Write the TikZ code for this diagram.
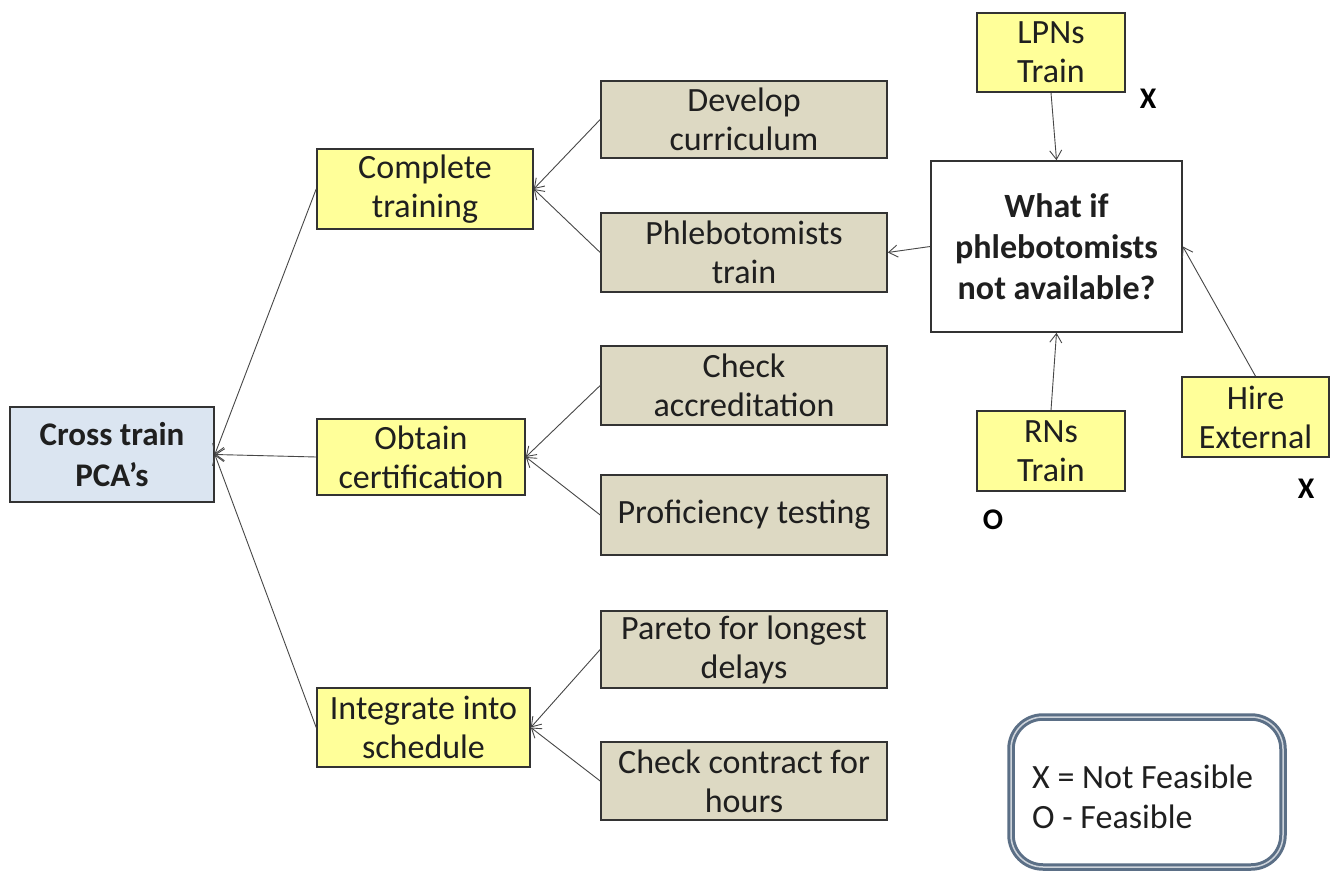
\documentclass[tikz,border=0pt]{standalone}
\usepackage{fontspec}
\setmainfont{Carlito}
\usetikzlibrary{arrows.meta}
\definecolor{boxyellow}{HTML}{FFFF99}
\definecolor{boxtan}{HTML}{DDD9C3}
\definecolor{boxblue}{HTML}{DBE5F1}
\definecolor{edge}{HTML}{333333}
\definecolor{legendline}{HTML}{5B6F86}
\tikzset{
  base/.style={draw=edge, line width=1.6pt, align=center, inner sep=1pt,
    font=\fontsize{34}{39}\selectfont, text=black!88},
  rootbox/.style={base, fill=boxblue, font=\fontsize{33}{41}\selectfont\bfseries},
  taskbox/.style={base, fill=boxyellow},
  subbox/.style={base, fill=boxtan, minimum width=286pt},
  whatbox/.style={base, fill=white, font=\fontsize{34}{41}\selectfont\bfseries},
  verdict/.style={font=\fontsize{30}{32}\selectfont\bfseries, text=black},
  link/.style={draw=edge!90, line width=0.9pt, -{Straight Barb[length=9pt,width=12pt,line width=0.9pt]}},
}
\begin{document}
\begin{tikzpicture}[x=1pt,y=-1pt]
\useasboundingbox (0,0) rectangle (1330,874);
\fill[white] (0,0) rectangle (1330,874);

% main tree
\node[rootbox, minimum width=204pt, minimum height=95pt] (root) at (112,454.5) {Cross train\\PCA’s};
\node[taskbox, minimum width=216pt, minimum height=80pt] (train) at (425,189) {Complete\\training};
\node[taskbox, minimum width=208pt, minimum height=76pt] (cert) at (421,457) {Obtain\\certification};
\node[taskbox, minimum width=213pt, minimum height=79pt] (sched) at (423.5,727.5) {Integrate into\\schedule};

\node[subbox, minimum height=77pt] (curr) at (744,119.5) {Develop\\curriculum};
\node[subbox, minimum height=79pt] (phleb) at (744,252.5) {Phlebotomists\\train};
\node[subbox, minimum height=79pt] (accr) at (744,385.5) {Check\\accreditation};
\node[subbox, minimum height=80pt] (prof) at (744,515) {Proficiency testing};
\node[subbox, minimum height=77pt] (pareto) at (744,649.5) {Pareto for longest\\delays};
\node[subbox, minimum height=78pt] (contract) at (744,781) {Check contract for\\hours};

% what-if branch
\node[whatbox, minimum width=251pt, minimum height=171pt] (what) at (1056.5,246.5) {What if\\phlebotomists\\not available?};
\node[taskbox, minimum width=148pt, minimum height=79pt] (lpn) at (1051,52.5) {LPNs\\Train};
\node[taskbox, minimum width=148pt, minimum height=80pt] (rn) at (1051,451) {RNs\\Train};
\node[taskbox, minimum width=147pt, minimum height=80pt] (hire) at (1255.5,417) {Hire\\External};

\node[verdict] (xlpn) at (1148,99) {X};
\node[verdict] (orn) at (993,520) {O};
\node[verdict] (xhire) at (1306,489) {X};

% connectors
\draw[link] (train.west) -- (root.east);
\draw[link] (cert.west) -- (root.east);
\draw[link] (sched.west) -- (root.east);
\draw[link] (curr.west) -- (train.east);
\draw[link] (phleb.west) -- (train.east);
\draw[link] (accr.west) -- (cert.east);
\draw[link] (prof.west) -- (cert.east);
\draw[link] (pareto.west) -- (sched.east);
\draw[link] (contract.west) -- (sched.east);
\draw[link] (what.west) -- (phleb.east);
\draw[link] (lpn.south) -- (what.north);
\draw[link] (rn.north) -- (what.south);
\draw[link] (hire.north) -- (what.east);

% legend
\node[draw=legendline, line width=3pt, rounded corners=32pt, fill=white,
      minimum width=272pt, minimum height=150pt, inner sep=0pt,
      double=legendline!30, double distance=1.5pt] (legend) at (1147,792) {};
\node[align=left, anchor=west, font=\fontsize{34}{40}\selectfont, text=black!88,
      inner sep=0pt] (legendtext) at (1032,797) {X = Not Feasible\\O - Feasible};
\end{tikzpicture}
\end{document}
